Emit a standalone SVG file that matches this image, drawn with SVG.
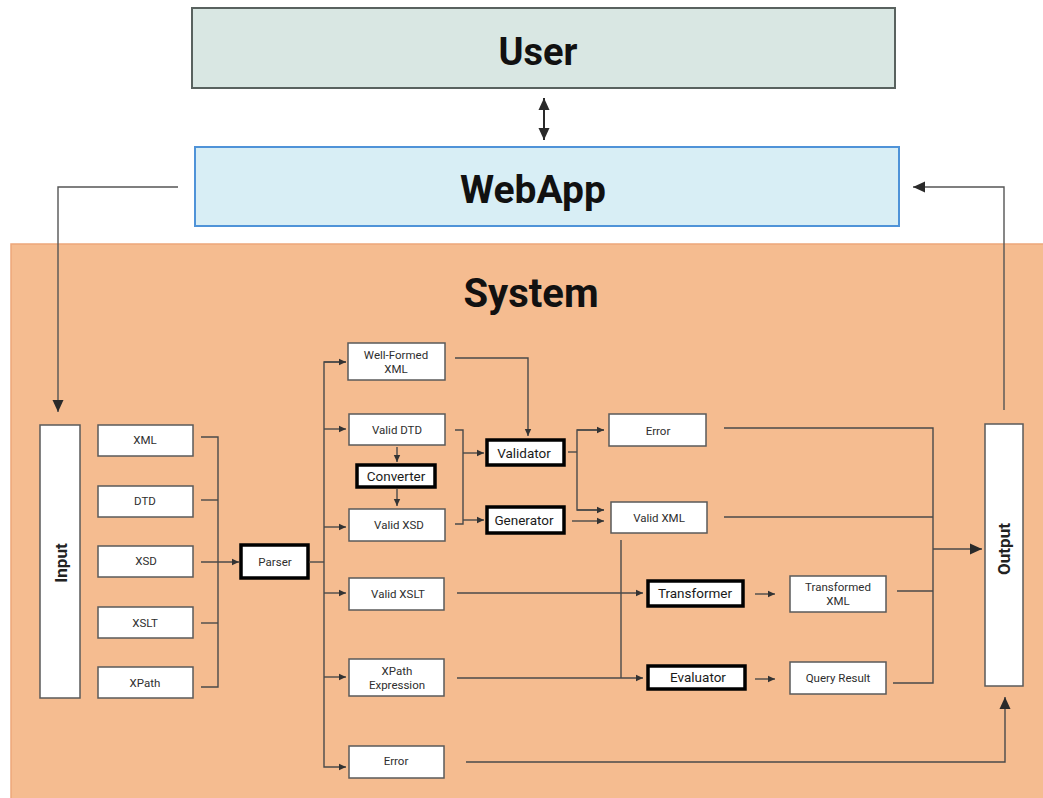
<svg xmlns="http://www.w3.org/2000/svg" width="1043" height="798" viewBox="0 0 1043 798">
  <defs>
    <style>
      .title { font-family: Roboto, "Liberation Sans", sans-serif; font-weight: 700; fill: #111; text-anchor: middle; }
      .box { fill: #ffffff; stroke: #5a5a5a; stroke-width: 1.5; }
      .proc { fill: #ffffff; stroke: #000000; stroke-width: 3.5; }
      .lbl { font-family: Roboto, "Liberation Sans", sans-serif; font-size: 11.5px; font-weight: 400; fill: #2e2e2e; text-anchor: middle; dominant-baseline: central; }
      .plbl { font-family: Roboto, "Liberation Sans", sans-serif; font-size: 13.5px; font-weight: 400; fill: #1a1a1a; text-anchor: middle; dominant-baseline: central; }
      .side { font-family: Roboto, "Liberation Sans", sans-serif; font-size: 17px; font-weight: 700; fill: #222; text-anchor: middle; dominant-baseline: central; }
      .wire { fill: none; stroke: #4a4a4a; stroke-width: 1.4; }
      .wire-big { fill: none; stroke: #555; stroke-width: 1.4; }
    </style>
    <marker id="ah" markerUnits="userSpaceOnUse" markerWidth="8" markerHeight="8" refX="7" refY="4" orient="auto">
      <path d="M0,0.8 L7,4 L0,7.2 z" fill="#333"/>
    </marker>
    <marker id="ahBig" markerUnits="userSpaceOnUse" markerWidth="14" markerHeight="14" refX="12" refY="6" orient="auto">
      <path d="M0,0.5 L12,6 L0,11.5 z" fill="#2a2a2a"/>
    </marker>
    <marker id="ahBigStart" markerUnits="userSpaceOnUse" markerWidth="14" markerHeight="14" refX="0" refY="6" orient="auto">
      <path d="M12,0.5 L0,6 L12,11.5 z" fill="#2a2a2a"/>
    </marker>
  </defs>

  <rect width="1043" height="798" fill="#ffffff"/>

  <!-- System area -->
  <g id="system">
    <rect x="11" y="244" width="1040" height="560" fill="#f5bc90" stroke="#eda77a" stroke-width="1.5"/>
    <text class="title" x="531" y="307" font-size="40">System</text>
  </g>

  <!-- Top tier -->
  <g id="user">
    <rect x="192" y="8" width="703" height="80" fill="#d9e7e3" stroke="#59625f" stroke-width="2"/>
    <text class="title" x="538" y="65" font-size="38">User</text>
  </g>
  <g id="webapp">
    <rect x="195" y="147" width="704" height="79" fill="#d8eef5" stroke="#4f93d8" stroke-width="2"/>
    <text class="title" x="533" y="203" font-size="39">WebApp</text>
  </g>

  <!-- Input / Output columns -->
  <g id="input">
    <rect class="box" x="40" y="425" width="40" height="273"/>
    <text class="side" transform="rotate(-90 61 563)" x="61" y="563">Input</text>
  </g>
  <g id="output">
    <rect class="box" x="985" y="424" width="38" height="262"/>
    <text class="side" transform="rotate(-90 1004 549)" x="1004" y="549">Output</text>
  </g>

  <!-- Input documents -->
  <g id="in-xml"><rect class="box" x="98" y="425" width="95" height="31"/><text class="lbl" x="145" y="440">XML</text></g>
  <g id="in-dtd"><rect class="box" x="98" y="486" width="95" height="31"/><text class="lbl" x="145" y="501">DTD</text></g>
  <g id="in-xsd"><rect class="box" x="98" y="546" width="95" height="31"/><text class="lbl" x="146" y="561">XSD</text></g>
  <g id="in-xslt"><rect class="box" x="98" y="607" width="95" height="31"/><text class="lbl" x="145" y="623">XSLT</text></g>
  <g id="in-xpath"><rect class="box" x="98" y="667" width="95" height="31"/><text class="lbl" x="145" y="683">XPath</text></g>

  <!-- Parser -->
  <g id="parser"><rect class="proc" x="241" y="545" width="67" height="33"/><text class="lbl" x="275" y="562" font-size="12">Parser</text></g>

  <!-- Parser results -->
  <g id="wellformed"><rect class="box" x="348" y="343" width="97" height="37"/><text class="lbl" x="396" y="355" font-size="11">Well-Formed</text><text class="lbl" x="396" y="369" font-size="11">XML</text></g>
  <g id="valid-dtd"><rect class="box" x="349" y="414" width="96" height="31"/><text class="lbl" x="397" y="430">Valid DTD</text></g>
  <g id="converter"><rect class="proc" x="357" y="465" width="78" height="22"/><text class="plbl" x="396" y="476" font-size="12.5">Converter</text></g>
  <g id="valid-xsd"><rect class="box" x="349" y="509" width="96" height="32"/><text class="lbl" x="399" y="525">Valid XSD</text></g>
  <g id="valid-xslt"><rect class="box" x="349" y="578" width="95" height="32"/><text class="lbl" x="398" y="594">Valid XSLT</text></g>
  <g id="xpath-expr"><rect class="box" x="349" y="659" width="95" height="37"/><text class="lbl" x="397" y="671" font-size="11">XPath</text><text class="lbl" x="397" y="685" font-size="11">Expression</text></g>
  <g id="parse-error"><rect class="box" x="349" y="746" width="95" height="32"/><text class="lbl" x="396" y="761">Error</text></g>

  <!-- Processors -->
  <g id="validator"><rect class="proc" x="487" y="440" width="77" height="25"/><text class="plbl" x="524" y="453">Validator</text></g>
  <g id="generator"><rect class="proc" x="487" y="507" width="77" height="26"/><text class="plbl" x="524" y="520">Generator</text></g>
  <g id="transformer"><rect class="proc" x="648" y="581" width="95" height="25"/><text class="plbl" x="695" y="593">Transformer</text></g>
  <g id="evaluator"><rect class="proc" x="648" y="666" width="97" height="23"/><text class="plbl" x="698" y="677">Evaluator</text></g>

  <!-- Processor results -->
  <g id="valid-error"><rect class="box" x="609" y="414" width="97" height="32"/><text class="lbl" x="658" y="431">Error</text></g>
  <g id="valid-xml"><rect class="box" x="611" y="502" width="96" height="31"/><text class="lbl" x="659" y="518">Valid XML</text></g>
  <g id="transformed-xml"><rect class="box" x="790" y="576" width="96" height="36"/><text class="lbl" x="838" y="587" font-size="11">Transformed</text><text class="lbl" x="838" y="601" font-size="11">XML</text></g>
  <g id="query-result"><rect class="box" x="790" y="662" width="96" height="32"/><text class="lbl" x="838" y="678" font-size="11">Query Result</text></g>

  <!-- Connectors -->
  <g id="connectors">
    <!-- user <-> webapp -->
    <line x1="544" y1="98" x2="544" y2="140" stroke="#2a2a2a" stroke-width="2" marker-start="url(#ahBigStart)" marker-end="url(#ahBig)"/>
    <!-- webapp -> input -->
    <polyline class="wire-big" points="178,187 58,187 58,412" marker-end="url(#ahBig)"/>
    <!-- output -> webapp -->
    <polyline class="wire-big" points="1004,410 1004,187 913,187" marker-end="url(#ahBig)"/>

    <!-- inputs into parser -->
    <polyline class="wire" points="201,437 218,437 218,687 201,687"/>
    <line class="wire" x1="201" y1="500" x2="218" y2="500"/>
    <line class="wire" x1="201" y1="623" x2="218" y2="623"/>
    <line class="wire" x1="201" y1="562" x2="239" y2="562" marker-end="url(#ah)"/>

    <!-- parser fan-out -->
    <polyline class="wire" points="309,562 324,562"/>
    <polyline class="wire" points="346,362 324,362 324,767 346,767" marker-end="url(#ah)"/>
    <line class="wire" x1="324" y1="362" x2="346" y2="362" marker-end="url(#ah)"/>
    <line class="wire" x1="324" y1="429" x2="346" y2="429" marker-end="url(#ah)"/>
    <line class="wire" x1="324" y1="527" x2="346" y2="527" marker-end="url(#ah)"/>
    <line class="wire" x1="324" y1="593" x2="346" y2="593" marker-end="url(#ah)"/>
    <line class="wire" x1="324" y1="677" x2="346" y2="677" marker-end="url(#ah)"/>

    <!-- DTD -> converter -> XSD -->
    <line class="wire" x1="397" y1="447" x2="397" y2="462" marker-end="url(#ah)"/>
    <line class="wire" x1="397" y1="489" x2="397" y2="506" marker-end="url(#ah)"/>

    <!-- well-formed -> validator -->
    <polyline class="wire" points="455,358 528,358 528,436" marker-end="url(#ah)"/>

    <!-- schemas into validator / generator -->
    <polyline class="wire" points="455,430 463,430 463,524 455,524"/>
    <line class="wire" x1="463" y1="453" x2="484" y2="453" marker-end="url(#ah)"/>
    <line class="wire" x1="463" y1="520" x2="484" y2="520" marker-end="url(#ah)"/>

    <!-- validator -> error / valid xml -->
    <line class="wire" x1="568" y1="452" x2="577" y2="452"/>
    <polyline class="wire" points="604,430 577,430 577,510 604,510"/>
    <line class="wire" x1="577" y1="430" x2="604" y2="430" marker-end="url(#ah)"/>
    <line class="wire" x1="577" y1="510" x2="604" y2="510" marker-end="url(#ah)"/>
    <!-- generator -> valid xml -->
    <line class="wire" x1="572" y1="521" x2="604" y2="521" marker-end="url(#ah)"/>

    <!-- valid xml feeding transformer / evaluator -->
    <line class="wire" x1="621" y1="540" x2="621" y2="678"/>
    <line class="wire" x1="457" y1="593" x2="643" y2="593" marker-end="url(#ah)"/>
    <line class="wire" x1="457" y1="678" x2="643" y2="678" marker-end="url(#ah)"/>

    <!-- processors -> results -->
    <line class="wire" x1="755" y1="594" x2="775" y2="594" marker-end="url(#ah)"/>
    <line class="wire" x1="755" y1="679" x2="775" y2="679" marker-end="url(#ah)"/>

    <!-- results gathered to output -->
    <polyline class="wire" points="724,428 933,428 933,683 893,683"/>
    <line class="wire" x1="724" y1="517" x2="933" y2="517"/>
    <line class="wire" x1="897" y1="591" x2="933" y2="591"/>
    <line class="wire" x1="933" y1="549" x2="982" y2="549" marker-end="url(#ahBig)"/>

    <!-- parse error -> output -->
    <polyline class="wire" points="466,762 1005,762 1005,697" marker-end="url(#ahBig)"/>
  </g>
</svg>
